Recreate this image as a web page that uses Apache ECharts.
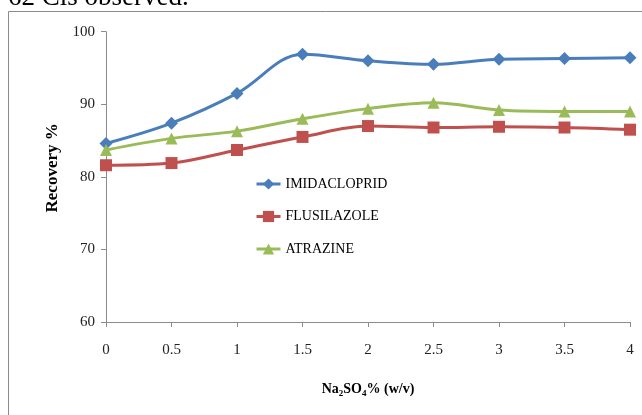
<!DOCTYPE html>
<html>
<head>
<meta charset="utf-8">
<script src="https://cdn.jsdelivr.net/npm/echarts@6/dist/echarts.min.js"></script>
<style>
html,body{margin:0;padding:0;background:#fff;}
#c{width:642px;height:415px;}
</style>
</head>
<body>
<div id="c"></div>
<script>
var xValues = [0, 0.5, 1, 1.5, 2, 2.5, 3, 3.5, 4];
var imidacloprid = [84.6, 87.4, 91.5, 96.9, 96.0, 95.5, 96.2, 96.3, 96.4];
var flusilazole = [81.6, 81.9, 83.7, 85.5, 87.0, 86.8, 86.9, 86.8, 86.5];
var atrazine = [83.7, 85.3, 86.3, 88.0, 89.4, 90.2, 89.2, 89.0, 89.0];
var seriesNames = ['IMIDACLOPRID', 'FLUSILAZOLE', 'ATRAZINE'];
var yTicks = [60, 70, 80, 90, 100];

function pairs(vals) { return xValues.map(function (x, i) { return [x, vals[i]]; }); }

var serif = '"Liberation Serif", "Times New Roman", serif';
var chart = echarts.init(document.getElementById('c'), null, {renderer: 'canvas'});
var mk = function (name, vals, color, symbol, size) {
  return {
    name: name, type: 'line', data: pairs(vals), smooth: 0.35,
    symbol: symbol, symbolSize: size,
    lineStyle: {color: color, width: 3},
    itemStyle: {color: color},
    emphasis: {disabled: true}
  };
};
chart.setOption({
  animation: false,
  backgroundColor: '#fff',
  grid: {left: 106, right: 12, top: 31.7, bottom: 93, containLabel: false},
  legend: {
    orient: 'vertical', left: 255, top: 177, padding: 0, itemGap: 18.5, itemWidth: 24, itemHeight: 14,
    lineStyle: {width: 3},
    textStyle: {fontFamily: serif, fontSize: 14, color: '#000'},
    data: seriesNames
  },
  xAxis: {
    type: 'value', min: xValues[0], max: xValues[xValues.length - 1], interval: 0.5,
    splitLine: {show: false},
    axisLine: {lineStyle: {color: '#8c8c8c'}},
    axisTick: {lineStyle: {color: '#8c8c8c'}, length: 5},
    axisLabel: {fontFamily: serif, fontSize: 15, color: '#222', margin: 21},
    name: 'Na{sub|2}SO{sub|4}% (w/v)', nameLocation: 'middle', nameGap: 59,
    nameTextStyle: {fontFamily: serif, fontSize: 14, fontWeight: 'bold', color: '#000',
      rich: {sub: {fontFamily: serif, fontSize: 9, fontWeight: 'bold', color: '#000', verticalAlign: 'bottom', padding: [8, 0, 0, 0]}}}
  },
  yAxis: {
    type: 'value', min: yTicks[0], max: yTicks[yTicks.length - 1], interval: 10,
    splitLine: {show: false},
    axisLine: {show: true, lineStyle: {color: '#8c8c8c'}},
    axisTick: {show: true, lineStyle: {color: '#8c8c8c'}, length: 5},
    axisLabel: {fontFamily: serif, fontSize: 15, color: '#222', margin: 11},
    name: 'Recovery %', nameLocation: 'middle', nameGap: 44, nameRotate: 90,
    nameTextStyle: {fontFamily: serif, fontSize: 17, fontWeight: 'bold', color: '#000', padding: [0, 0, 0, 18]}
  },
  graphic: [
    {type: 'rect', shape: {x: 8.5, y: 11.5, width: 700, height: 500}, style: {fill: 'none', stroke: '#8c8c8c', lineWidth: 1}, silent: true},
    {type: 'text', left: 8, top: -16, style: {text: '62 Cls observed.', font: '27px ' + serif, fill: '#000'}, silent: true}
  ],
  series: [
    mk(seriesNames[0], imidacloprid, '#4A7EBB', 'diamond', 13),
    mk(seriesNames[1], flusilazole, '#C0504D', 'rect', 12),
    mk(seriesNames[2], atrazine, '#9BBB59', 'triangle', 12)
  ]
});
</script>
</body>
</html>
